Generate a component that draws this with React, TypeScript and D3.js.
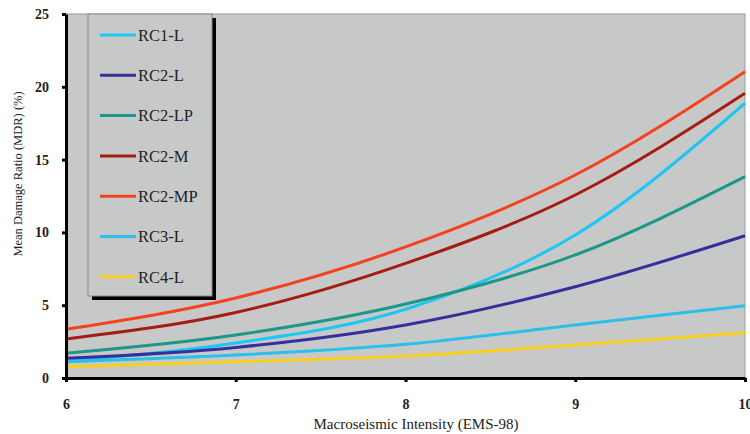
import React, { useEffect, useRef } from "react";
import * as d3 from "d3";

const intensity = [6, 7, 8, 9, 10];
const seriesNames = ["RC1-L", "RC2-L", "RC2-LP", "RC2-M", "RC2-MP", "RC3-L", "RC4-L"];
const seriesColors = ["#1ec6f4", "#36309a", "#1c978a", "#a51d12", "#f4421e", "#2bbfe9", "#f7cf1c"];

const rc1L = [1.15, 2.4, 4.72, 9.82, 18.87];
const rc2L = [1.35, 2.1, 3.64, 6.27, 9.77];
const rc2LP = [1.7, 2.95, 5.08, 8.45, 13.83];
const rc2M = [2.68, 4.5, 7.87, 12.57, 19.55];
const rc2MP = [3.35, 5.5, 9.0, 13.94, 21.04];
const rc3L = [1.12, 1.58, 2.31, 3.64, 4.97];
const rc4L = [0.78, 1.12, 1.51, 2.27, 3.11];

const yTicks = [0, 5, 10, 15, 20, 25];
const xTicks = [6, 7, 8, 9, 10];

const seriesValues = [rc1L, rc2L, rc2LP, rc2M, rc2MP, rc3L, rc4L];

const App = () => {
  const ref = useRef<SVGSVGElement>(null);

  useEffect(() => {
    const svg = d3.select(ref.current);
    svg.selectAll("*").remove();

    const margin = { top: 14, right: 5, bottom: 56, left: 66 };
    const W = 750, H = 434;
    const w = W - margin.left - margin.right;
    const h = H - margin.top - margin.bottom;
    const font = "'Liberation Serif', 'Times New Roman', serif";

    const x = d3.scaleLinear().domain([6, 10]).range([0, w]);
    const y = d3.scaleLinear().domain([0, 25]).range([h, 0]);

    const g = svg.append("g").attr("transform", `translate(${margin.left}, ${margin.top})`);

    // plot background
    g.append("rect")
      .attr("width", w)
      .attr("height", h)
      .attr("fill", "#c7c9c9")
      .attr("stroke", "#9a9a9a")
      .attr("stroke-width", 1);

    // series
    const line = d3
      .line<number>()
      .x((d, i) => x(intensity[i]))
      .y((d) => y(d))
      .curve(d3.curveMonotoneX);

    g.selectAll(".series")
      .data(seriesValues)
      .join("path")
      .attr("class", "series")
      .attr("d", (d) => line(d))
      .attr("fill", "none")
      .attr("stroke", (d, i) => seriesColors[i])
      .attr("stroke-width", 3);

    // axes
    const yAxis = g.append("g").call(d3.axisLeft(y).tickValues(yTicks).tickSize(4).tickSizeOuter(0));
    yAxis.select(".domain").attr("stroke", "#000").attr("stroke-width", 3);
    yAxis.selectAll(".tick line").attr("stroke", "#000").attr("stroke-width", 3);
    yAxis.selectAll(".tick text")
      .attr("x", -17)
      .attr("font-family", font)
      .attr("font-size", 14)
      .attr("font-weight", "bold")
      .attr("fill", "#222");

    const xAxis = g
      .append("g")
      .attr("transform", `translate(0, ${h})`)
      .call(d3.axisBottom(x).tickValues(xTicks).tickFormat(d3.format("d")).tickSize(4).tickSizeOuter(0));
    xAxis.select(".domain").attr("stroke", "#000").attr("stroke-width", 3);
    xAxis.selectAll(".tick line").attr("stroke", "#000").attr("stroke-width", 3);
    xAxis.selectAll(".tick text")
      .attr("y", 21)
      .attr("font-family", font)
      .attr("font-size", 14)
      .attr("font-weight", "bold")
      .attr("fill", "#222");

    // axis titles
    svg.append("text")
      .attr("x", 416)
      .attr("y", 429)
      .attr("text-anchor", "middle")
      .attr("font-family", font)
      .attr("font-size", 15)
      .attr("fill", "#222")
      .text("Macroseismic Intensity (EMS-98)");

    svg.append("text")
      .attr("transform", "translate(22, 174) rotate(-90)")
      .attr("text-anchor", "middle")
      .attr("font-family", font)
      .attr("font-size", 12.5)
      .attr("fill", "#222")
      .text("Mean Damage Ratio (MDR) (%)");

    // legend with drop shadow
    const lg = svg.append("g").attr("transform", "translate(88, 14)");
    const lw = 124, lh = 282;
    lg.append("rect").attr("x", 4).attr("y", 4).attr("width", lw).attr("height", lh).attr("fill", "#000");
    lg.append("rect")
      .attr("width", lw)
      .attr("height", lh)
      .attr("fill", "#c7c9c9")
      .attr("stroke", "#8a8a8a")
      .attr("stroke-width", 1);

    const item = lg
      .selectAll(".item")
      .data(seriesNames)
      .join("g")
      .attr("class", "item")
      .attr("transform", (d, i) => `translate(0, ${21 + i * 40.3})`);
    item.append("line")
      .attr("x1", 12)
      .attr("x2", 48)
      .attr("stroke", (d, i) => seriesColors[i])
      .attr("stroke-width", 3);
    item.append("text")
      .attr("x", 50)
      .attr("dy", "0.35em")
      .attr("font-family", font)
      .attr("font-size", 16.5)
      .attr("fill", "#222")
      .text((d) => d);
  }, []);

  return <svg ref={ref} width={750} height={434} style={{ position: "absolute", left: 0, top: 0 }} />;
};

export default App;
